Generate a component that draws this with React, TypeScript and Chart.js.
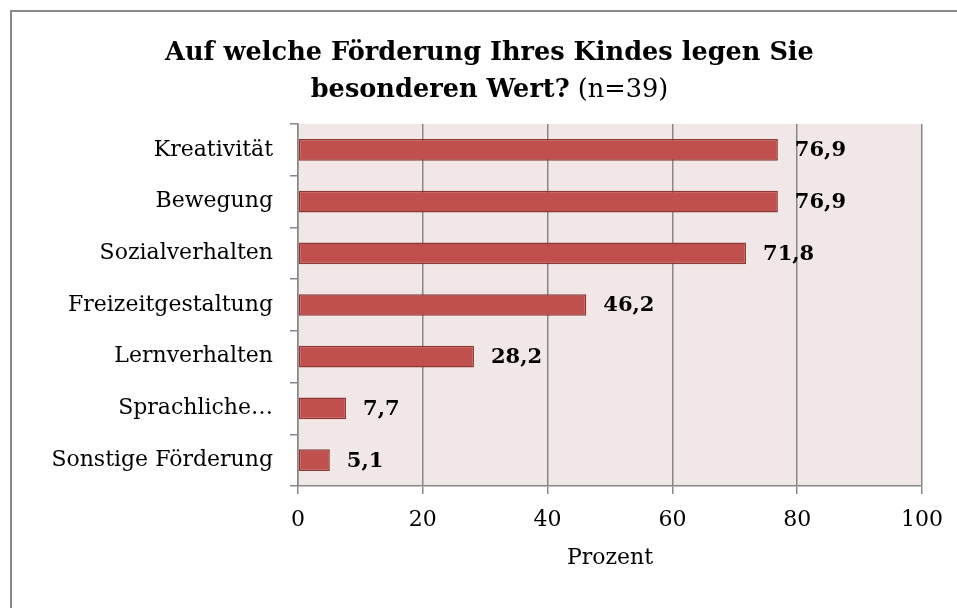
import React, { useEffect, useRef } from 'react';
import { Chart, registerables } from 'chart.js';

Chart.register(...registerables);

const categories = ['Kreativität', 'Bewegung', 'Sozialverhalten', 'Freizeitgestaltung', 'Lernverhalten', 'Sprachliche…', 'Sonstige Förderung'];
const values = [76.9, 76.9, 71.8, 46.2, 28.2, 7.7, 5.1];
const valueLabels = ['76,9', '76,9', '71,8', '46,2', '28,2', '7,7', '5,1'];
const xMin = 0;
const xMax = 100;
const xStep = 20;
const titleLine1 = 'Auf welche Förderung Ihres Kindes legen Sie';
const titleLine2Bold = 'besonderen Wert?';
const titleLine2Normal = ' (n=39)';
const axisTitle = 'Prozent';

const FONT = "'DejaVu Serif', serif";
const GRID = '#878787';

const bgPlugin = {
  id: 'plotBg',
  beforeDraw(chart: any) {
    const { ctx, chartArea } = chart;
    ctx.save();
    ctx.fillStyle = '#F2E7E7';
    ctx.fillRect(chartArea.left, chartArea.top, chartArea.right - chartArea.left, chartArea.bottom - chartArea.top);
    ctx.restore();
  },
};

const titlePlugin = {
  id: 'mixedTitle',
  afterDraw(chart: any) {
    const ctx = chart.ctx;
    const cx = 477.5;
    ctx.save();
    ctx.fillStyle = '#000';
    ctx.textBaseline = 'alphabetic';
    ctx.textAlign = 'left';
    const boldFont = `bold 25.6px ${FONT}`;
    const normFont = `25.6px ${FONT}`;
    ctx.font = boldFont;
    const w1 = ctx.measureText(titleLine1).width;
    ctx.fillText(titleLine1, cx - w1 / 2, 48);
    const wb = ctx.measureText(titleLine2Bold).width;
    ctx.font = normFont;
    const wn = ctx.measureText(titleLine2Normal).width;
    const start = cx - (wb + wn) / 2;
    ctx.font = boldFont;
    ctx.fillText(titleLine2Bold, start, 85);
    ctx.font = normFont;
    ctx.fillText(titleLine2Normal, start + wb, 85);
    ctx.restore();
  },
};

const labelPlugin = {
  id: 'valueLabels',
  afterDatasetsDraw(chart: any) {
    const ctx = chart.ctx;
    const meta = chart.getDatasetMeta(0);
    ctx.save();
    ctx.font = `bold 21px ${FONT}`;
    ctx.fillStyle = '#000';
    ctx.textAlign = 'left';
    ctx.textBaseline = 'middle';
    meta.data.forEach((el: any, i: number) => {
      ctx.fillText(valueLabels[i], el.x + 17, el.y + 1);
    });
    ctx.restore();
  },
};

export default function App() {
  const ref = useRef<HTMLCanvasElement>(null);
  useEffect(() => {
    if (!ref.current) return;
    const chart = new Chart(ref.current, {
      type: 'bar',
      data: {
        labels: categories,
        datasets: [
          {
            data: values,
            backgroundColor: '#C0504D',
            borderColor: '#8C3836',
            borderWidth: 1.5,
            borderSkipped: false,
            categoryPercentage: 1,
            barPercentage: 0.42,
          },
        ],
      },
      options: {
        indexAxis: 'y',
        animation: false,
        responsive: false,
        maintainAspectRatio: false,
        layout: { padding: { top: 112, right: 35, left: 0, bottom: 0 } },
        plugins: {
          legend: { display: false },
          title: { display: false },
          tooltip: { enabled: false },
        },
        scales: {
          x: {
            min: xMin,
            max: xMax,
            ticks: { stepSize: xStep, color: '#000', font: { family: FONT, size: 22 }, padding: 13 },
            grid: { color: GRID, lineWidth: 1.5, tickLength: 8 },
            border: { display: true, color: GRID, width: 1.5 },
            title: { display: true, text: axisTitle, color: '#000', font: { family: FONT, size: 22 }, padding: { top: 0, bottom: 37 } },
            afterFit(s: any) { s.height = 122; },
          },
          y: {
            ticks: { color: '#000', font: { family: FONT, size: 22 }, padding: 17 },
            grid: { color: GRID, lineWidth: 1.5, tickLength: 8, drawOnChartArea: false, offset: true },
            border: { display: true, color: GRID, width: 1.5 },
            afterFit(s: any) { s.width = 286; },
          },
        },
      },
      plugins: [bgPlugin, titlePlugin, labelPlugin],
    });
    return () => chart.destroy();
  }, []);
  return (
    <div
      style={{
        position: 'absolute',
        left: 10,
        top: 10,
        width: 947,
        height: 598,
        borderLeft: '2px solid #8a8a8a',
        borderTop: '2px solid #8a8a8a',
        boxSizing: 'border-box',
        background: '#fff',
        overflow: 'hidden',
      }}
    >
      <canvas ref={ref} width={945} height={596} style={{ display: 'block', width: 945, height: 596 }} />
    </div>
  );
}
